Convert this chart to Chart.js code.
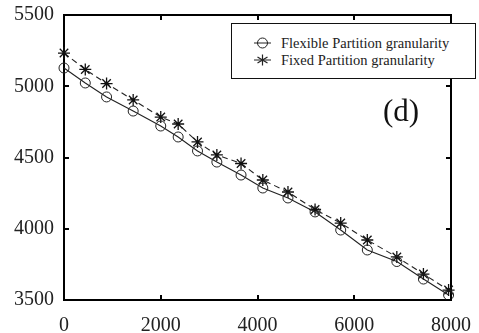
<!DOCTYPE html>
<html>
<head>
<meta charset="utf-8">
<script src="https://cdn.jsdelivr.net/npm/chart.js@4/dist/chart.umd.min.js"></script>
<style>
    body { margin: 0; background: #fff; }
    #wrap { position: relative; width: 479px; height: 333px; }
    #legendBox {
        position: absolute; left: 231px; top: 23px; width: 243px; height: 54px;
        border: 1.5px solid #111; background: #fff;
        font-family: "Liberation Serif", "Times New Roman", serif; font-size: 14.5px; color: #222;
    }
    .legend-row { position: absolute; left: 20px; height: 16px; line-height: 16px; white-space: nowrap; }
    .legend-row svg { position: absolute; left: 0; top: 0; }
    .legend-row span { position: absolute; left: 29px; top: 0; }
    #tag {
        position: absolute; left: 383px; top: 93px;
        font-family: "Liberation Serif", "Times New Roman", serif; font-size: 31px; color: #111;
    }
</style>
</head>
<body>
<div id="wrap">
    <canvas id="chart" width="479" height="333"></canvas>
    <div id="legendBox">
        <div class="legend-row" style="top: 11px;">
            <svg width="20" height="16"><line x1="2" y1="8" x2="19" y2="8" stroke="#222" stroke-width="1"/><circle cx="10.5" cy="8" r="5" fill="none" stroke="#222" stroke-width="1"/></svg>
            <span>Flexible Partition granularity</span>
        </div>
        <div class="legend-row" style="top: 28px;">
            <svg width="20" height="16"><line x1="2" y1="8" x2="19" y2="8" stroke="#222" stroke-width="1"/><path d="M10.5 2.5 V13.5 M5.5 5 L15.5 11 M15.5 5 L5.5 11" stroke="#222" stroke-width="1.2"/></svg>
            <span>Fixed Partition granularity</span>
        </div>
    </div>
    <div id="tag">(d)</div>
</div>
<script>
const xValues = [0, 440, 880, 1430, 2000, 2360, 2760, 3160, 3660, 4110, 4630, 5190, 5720, 6270, 6880, 7430, 7950];
const flexibleValues = [5128, 5023, 4925, 4826, 4721, 4644, 4546, 4468, 4377, 4286, 4216, 4118, 3991, 3851, 3770, 3647, 3535];
const fixedValues = [5233, 5118, 5019, 4904, 4784, 4735, 4609, 4518, 4458, 4342, 4258, 4135, 4040, 3921, 3802, 3682, 3570];
const xTicks = [0, 2000, 4000, 6000, 8000];
const yTicks = [3500, 4000, 4500, 5000, 5500];

const serif = '"Liberation Serif", "Times New Roman", serif';

const toPoints = (values) => values.map((v, i) => ({ x: xValues[i], y: v }));

// plain numbers, no thousands separator
const plainLabel = (value) => String(value);

// inward tick marks on all four sides of the box
const innerTicks = {
    id: 'innerTicks',
    afterDraw(chart) {
        const ctx = chart.ctx;
        const area = chart.chartArea;
        const xs = chart.scales.x;
        const ys = chart.scales.y;
        const len = 5;
        ctx.save();
        ctx.strokeStyle = '#000';
        ctx.lineWidth = 2;
        ctx.beginPath();
        xTicks.forEach(v => {
            const px = Math.round(xs.getPixelForValue(v));
            ctx.moveTo(px, area.bottom);
            ctx.lineTo(px, area.bottom - len);
            ctx.moveTo(px, area.top);
            ctx.lineTo(px, area.top + len);
        });
        yTicks.forEach(v => {
            const py = Math.round(ys.getPixelForValue(v));
            ctx.moveTo(area.left, py);
            ctx.lineTo(area.left + len, py);
            ctx.moveTo(area.right, py);
            ctx.lineTo(area.right - len, py);
        });
        ctx.stroke();
        ctx.restore();
    }
};

const axisBase = (min, max, step) => ({
    type: 'linear',
    min: min,
    max: max,
    border: { display: true, color: '#000', width: 2 },
    grid: { display: false },
    ticks: { stepSize: step }
});

const xAxis = axisBase(xTicks[0], xTicks[xTicks.length - 1], 2000);
xAxis.position = 'bottom';
xAxis.ticks = { stepSize: 2000, color: '#222', padding: 6, maxRotation: 0, callback: plainLabel, font: { family: serif, size: 20 } };
xAxis.afterFit = (scale) => { scale.height = 33; };

const xTop = axisBase(xTicks[0], xTicks[xTicks.length - 1], 2000);
xTop.position = 'top';
xTop.ticks = { stepSize: 2000, display: false };
xTop.afterFit = (scale) => { scale.height = 0; };

const yAxis = axisBase(yTicks[0], yTicks[yTicks.length - 1], 500);
yAxis.position = 'left';
yAxis.ticks = { stepSize: 500, color: '#222', padding: 2, callback: plainLabel, font: { family: serif, size: 20 } };
yAxis.afterFit = (scale) => { scale.width = 62; };

const yRight = axisBase(yTicks[0], yTicks[yTicks.length - 1], 500);
yRight.position = 'right';
yRight.ticks = { stepSize: 500, display: false };
yRight.afterFit = (scale) => { scale.width = 0; };

function drawChart() {
    const ctx = document.getElementById('chart').getContext('2d');
    new Chart(ctx, {
        type: 'line',
        data: {
            datasets: [{
                label: 'Flexible Partition granularity',
                data: toPoints(flexibleValues),
                borderColor: '#222',
                borderWidth: 1.1,
                pointStyle: 'circle',
                pointRadius: 5,
                pointBorderWidth: 1,
                pointBorderColor: '#222',
                pointBackgroundColor: 'rgba(0,0,0,0)',
                xAxisID: 'x',
                yAxisID: 'y'
            }, {
                label: 'Fixed Partition granularity',
                data: toPoints(fixedValues),
                borderColor: '#222',
                borderWidth: 1.1,
                borderDash: [6, 4],
                pointStyle: 'star',
                pointRadius: 6,
                pointBorderWidth: 1.3,
                pointBorderColor: '#111',
                pointBackgroundColor: 'rgba(0,0,0,0)',
                xAxisID: 'x',
                yAxisID: 'y'
            }]
        },
        options: {
            responsive: false,
            animation: false,
            clip: false,
            layout: { padding: { left: 2, top: 15, right: 28, bottom: 0 } },
            plugins: {
                legend: { display: false },
                tooltip: { enabled: false }
            },
            scales: {
                x: xAxis,
                x2: xTop,
                y: yAxis,
                y2: yRight
            }
        },
        plugins: [innerTicks]
    });
}

document.fonts.load('20px "Liberation Serif"').then(drawChart, drawChart);
</script>
</body>
</html>
